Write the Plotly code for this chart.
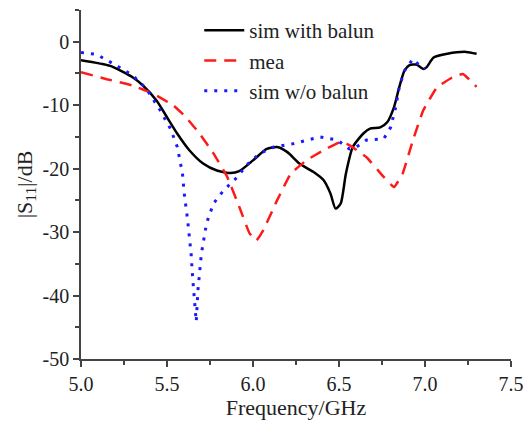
import plotly.graph_objects as go

# sim with balun
f_bal = [5.0, 5.17, 5.30, 5.36, 5.44, 5.50, 5.56, 5.63, 5.71, 5.79, 5.87, 5.92, 6.0, 6.08, 6.14,
         6.20, 6.27, 6.35, 6.41, 6.45, 6.48, 6.51, 6.54, 6.58, 6.64, 6.68, 6.74, 6.78, 6.82, 6.85,
         6.88, 6.91, 6.95, 6.99, 7.01, 7.05, 7.13, 7.24, 7.30]
s_bal = [-2.9, -3.8, -5.6, -6.9, -9.3, -11.9, -14.5, -17.1, -19.2, -20.3, -20.7, -20.4, -18.7, -16.9, -16.6,
         -17.4, -19.2, -20.5, -21.8, -23.9, -26.3, -25.5, -20.8, -16.6, -14.5, -13.7, -13.5, -12.7, -10.3, -7.2,
         -4.6, -3.7, -3.6, -4.3, -4.0, -2.5, -1.9, -1.6, -1.9]

# measured
f_mea = [5.0, 5.15, 5.30, 5.42, 5.54, 5.61, 5.69, 5.77, 5.85, 5.92, 5.98, 6.02, 6.06, 6.14, 6.22,
         6.31, 6.41, 6.51, 6.56, 6.66, 6.76, 6.82, 6.87, 6.93, 6.99, 7.07, 7.16, 7.22, 7.30]
s_mea = [-4.8, -5.9, -6.9, -8.2, -10.1, -11.9, -14.5, -17.6, -21.3, -26.0, -30.2, -31.3, -29.7, -25.0, -20.8,
         -18.7, -17.1, -15.8, -16.3, -18.2, -21.3, -22.9, -20.8, -15.5, -10.8, -7.2, -5.6, -5.1, -7.1]

# sim without balun
f_wo = [5.0, 5.09, 5.19, 5.30, 5.38, 5.46, 5.52, 5.56, 5.59, 5.60, 5.62, 5.64, 5.65, 5.67, 5.68,
        5.70, 5.73, 5.77, 5.83, 5.91, 5.96, 6.04, 6.12, 6.23, 6.39, 6.49, 6.56, 6.60, 6.66, 6.76,
        6.80, 6.83, 6.85, 6.88, 6.93, 6.97, 7.00]
s_wo = [-1.7, -2.0, -3.5, -5.3, -7.4, -10.8, -13.7, -16.6, -20.8, -23.9, -28.1, -33.4, -37.5, -44.1, -39.1,
        -33.4, -28.6, -25.5, -23.4, -21.3, -19.5, -17.6, -16.6, -16.1, -15.0, -15.5, -16.9, -16.6, -15.5, -15.3,
        -13.5, -10.3, -7.2, -4.6, -2.7, -3.8, -4.3]

x_ticks = [5.0, 5.5, 6.0, 6.5, 7.0, 7.5]
y_ticks = [0, -10, -20, -30, -40, -50]

FONT = "Liberation Serif, Times New Roman, serif"

fig = go.Figure()
fig.add_trace(go.Scatter(x=f_bal, y=s_bal, name="sim with balun", mode="lines",
                         line=dict(color="black", width=2.5, shape="spline", smoothing=0.6)))
fig.add_trace(go.Scatter(x=f_mea, y=s_mea, name="mea", mode="lines",
                         line=dict(color="#ff1a1a", width=2.5, dash="12px,8px", shape="spline", smoothing=0.3)))
fig.add_trace(go.Scatter(x=f_wo, y=s_wo, name="sim w/o balun", mode="lines",
                         line=dict(color="#1a1aff", width=3, dash="3px,7px")))

axis_common = dict(showline=True, linecolor="#444", linewidth=1.5, ticks="outside", ticklen=6,
                   tickcolor="#444", tickwidth=1.5, showgrid=False, zeroline=False, automargin=False,
                   tickfont=dict(family=FONT, size=20, color="#222"))

fig.update_xaxes(range=[5.0, 7.5], tickvals=x_ticks, ticktext=[f"{v:.1f}" for v in x_ticks],
                 minor=dict(ticks="outside", ticklen=4, tickcolor="#444", tickwidth=1.5, dtick=0.25, tick0=5.0),
                 title=dict(text="Frequency/GHz", font=dict(family=FONT, size=22, color="#222"), standoff=4),
                 **axis_common)
fig.update_yaxes(range=[-50, 5], tickvals=y_ticks, ticktext=[str(v) for v in y_ticks],
                 minor=dict(ticks="outside", ticklen=4, tickcolor="#444", tickwidth=1.5, dtick=5, tick0=0),
                 title=dict(text="|S<sub>11</sub>|/dB", font=dict(family=FONT, size=22, color="#222"), standoff=4),
                 **axis_common)

fig.update_layout(
    width=525, height=422,
    margin=dict(l=81, r=14, t=10, b=63),
    paper_bgcolor="white", plot_bgcolor="white",
    showlegend=True,
    legend=dict(x=0.275, y=1.0, xanchor="left", yanchor="top", bgcolor="rgba(0,0,0,0)",
                font=dict(family=FONT, size=21, color="#222"), tracegroupgap=0, itemwidth=40),
)

fig.write_html("out.html")
